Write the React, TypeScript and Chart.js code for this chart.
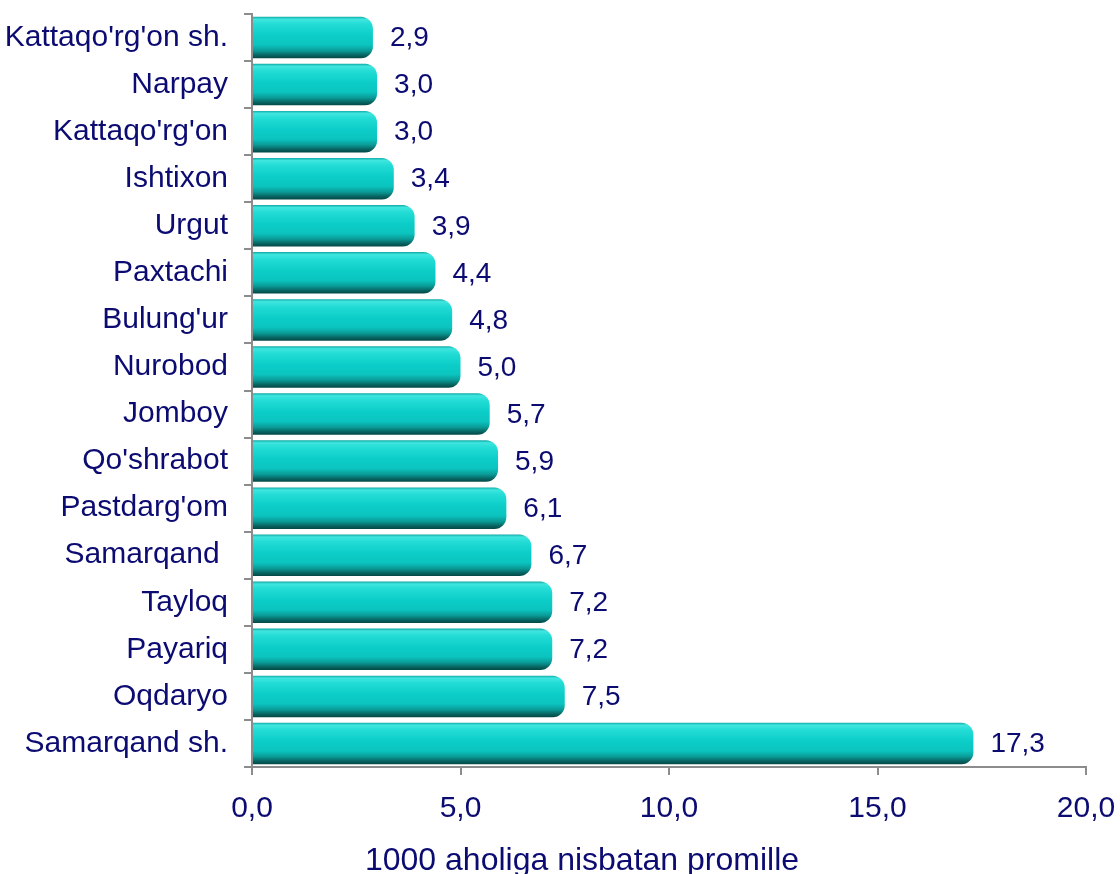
import React, { useEffect, useRef } from "react";
import { Chart, registerables } from "chart.js";

Chart.register(...registerables);

const categories = [
  "Kattaqo'rg'on sh.",
  "Narpay",
  "Kattaqo'rg'on",
  "Ishtixon",
  "Urgut",
  "Paxtachi",
  "Bulung'ur",
  "Nurobod",
  "Jomboy",
  "Qo'shrabot",
  "Pastdarg'om",
  "Samarqand ",
  "Tayloq",
  "Payariq",
  "Oqdaryo",
  "Samarqand sh.",
];
const values = [2.9, 3.0, 3.0, 3.4, 3.9, 4.4, 4.8, 5.0, 5.7, 5.9, 6.1, 6.7, 7.2, 7.2, 7.5, 17.3];
const xTicks = [0, 5, 10, 15, 20];
const axisTitle = "1000 aholiga nisbatan promille";

const NAVY = "#0b0b72";
const FONT = "'Liberation Sans', Arial, sans-serif";
const fmt = (v: number) => v.toFixed(1).replace(".", ",");

const CANVAS_H = 874;

const gradientPlugin = {
  id: "cylGradient",
  beforeDatasetDraw(chart: any, args: any) {
    const ctx = chart.ctx;
    const meta = args.meta;
    const area = chart.chartArea;
    ctx.save();
    ctx.beginPath();
    ctx.rect(area.left, area.top - 2, area.right - area.left + 2, area.bottom - area.top + 4);
    ctx.clip();
    meta.data.forEach((el: any) => {
      const h = el.height;
      const top = el.y - h / 2;
      const g = ctx.createLinearGradient(0, top, 0, top + h);
      g.addColorStop(0, "#12a9a5");
      g.addColorStop(0.06, "#3fe6df");
      g.addColorStop(0.18, "#22dcd5");
      g.addColorStop(0.45, "#0ccdc8");
      g.addColorStop(0.68, "#0bc4bf");
      g.addColorStop(0.82, "#0a9a96");
      g.addColorStop(0.93, "#07625f");
      g.addColorStop(1, "#044846");
      el.options.backgroundColor = g;
      el.draw(ctx, area);
    });
    ctx.restore();
    return false;
  },
};

const labelPlugin = {
  id: "valueLabels",
  afterDatasetsDraw(chart: any) {
    const ctx = chart.ctx;
    const meta = chart.getDatasetMeta(0);
    ctx.save();
    ctx.font = `28px ${FONT}`;
    ctx.fillStyle = NAVY;
    ctx.textAlign = "left";
    ctx.textBaseline = "middle";
    meta.data.forEach((el: any, i: number) => {
      ctx.fillText(fmt(values[i]), el.x + 17, el.y + 1);
    });
    ctx.restore();
  },
};

const titlePlugin = {
  id: "bottomTitle",
  afterDraw(chart: any) {
    const ctx = chart.ctx;
    ctx.save();
    ctx.font = `32px ${FONT}`;
    ctx.fillStyle = NAVY;
    ctx.textAlign = "center";
    ctx.textBaseline = "alphabetic";
    ctx.fillText(axisTitle, 582, 870);
    ctx.restore();
  },
};

export default function App() {
  const ref = useRef<HTMLCanvasElement>(null);
  useEffect(() => {
    if (!ref.current) return;
    const chart = new Chart(ref.current, {
      type: "bar",
      data: {
        labels: categories,
        datasets: [
          {
            data: values,
            backgroundColor: "#0ccdc8",
            borderWidth: 0,
            borderSkipped: false,
            borderRadius: { topLeft: 0, bottomLeft: 0, topRight: 12, bottomRight: 12 },
            categoryPercentage: 0.9,
            barPercentage: 0.98,
          },
        ],
      },
      options: {
        indexAxis: "y",
        animation: false,
        responsive: false,
        maintainAspectRatio: false,
        layout: { padding: { left: 0, right: 34, top: 14, bottom: 0 } },
        plugins: {
          legend: { display: false },
          tooltip: { enabled: false },
        },
        scales: {
          x: {
            min: 0,
            max: 20,
            afterBuildTicks: (scale: any) => {
              scale.ticks = xTicks.map((v) => ({ value: v }));
            },
            ticks: {
              color: NAVY,
              font: { family: FONT, size: 30 },
              padding: 16,
              callback: (v: any) => fmt(Number(v)),
              maxRotation: 0,
            },
            grid: { drawOnChartArea: false, drawTicks: true, tickLength: 8, color: "#8c8c8c", lineWidth: 2 },
            border: { color: "#8c8c8c", width: 2 },
            afterFit: (scale: any) => {
              scale.height = CANVAS_H - 767;
              scale.paddingLeft = 0;
              scale.paddingRight = 0;
            },
          },
          y: {
            ticks: {
              color: NAVY,
              font: { family: FONT, size: 30 },
              padding: 16,
            },
            grid: { offset: true, drawOnChartArea: false, drawTicks: true, tickLength: 8, color: "#8c8c8c", lineWidth: 2 },
            border: { color: "#8c8c8c", width: 2 },
            afterFit: (scale: any) => {
              scale.width = 252;
              scale.paddingTop = 0;
              scale.paddingBottom = 0;
            },
          },
        },
      },
      plugins: [gradientPlugin, labelPlugin, titlePlugin],
    });
    return () => chart.destroy();
  }, []);
  return (
    <div style={{ position: "fixed", left: 0, top: 0, width: 1120, height: 874, overflow: "hidden", background: "#fff" }}>
      <canvas ref={ref} width={1120} height={CANVAS_H} style={{ display: "block" }} />
    </div>
  );
}
